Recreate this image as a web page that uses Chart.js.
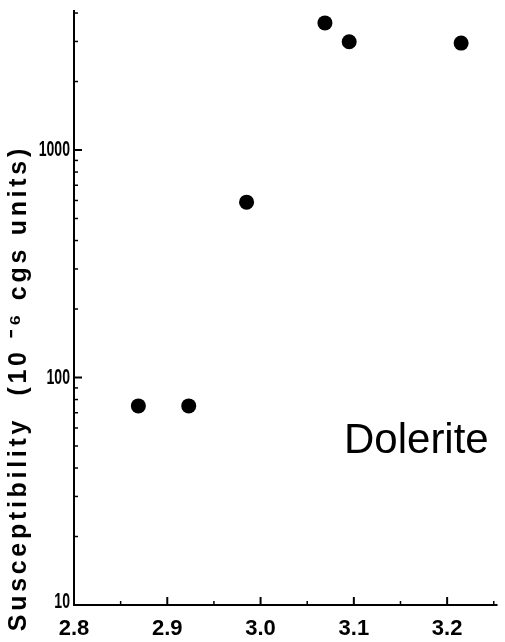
<!DOCTYPE html>
<html>
<head>
<meta charset="utf-8">
<script src="https://cdn.jsdelivr.net/npm/chart.js@4"></script>
<style>
  html, body { margin: 0; padding: 0; background: #ffffff; }
  #wrap { width: 505px; height: 642px; }
</style>
</head>
<body>
<div id="wrap"><canvas id="c" width="505" height="642"></canvas></div>
<script>
// ---- data ----
const density = [2.869, 2.923, 2.985, 3.069, 3.095, 3.215];
const susceptibility = [75, 75, 590, 3620, 2990, 2950];
const xTickLabels = [2.8, 2.9, 3.0, 3.1, 3.2];
const xMinorTicks = [2.85, 2.95, 3.05, 3.15, 3.25];
const yTickLabels = [10, 100, 1000];
const yTitle = 'Susceptibility  (10 \u207B\u2076 cgs units)';
const rockLabel = 'Dolerite';

const points = density.map((d, i) => ({ x: d, y: susceptibility[i] }));

const axesPlugin = {
  id: 'axesPlugin',
  afterDraw(chart) {
    const ctx = chart.ctx;
    const xs = chart.scales.x, ys = chart.scales.y;
    const a = chart.chartArea;
    ctx.save();
    ctx.strokeStyle = '#000';
    ctx.fillStyle = '#000';
    ctx.lineWidth = 2;
    // axis lines
    ctx.beginPath();
    ctx.moveTo(a.left, a.top);
    ctx.lineTo(a.left, a.bottom);
    ctx.lineTo(a.right, a.bottom);
    ctx.stroke();
    // y ticks (inside)
    ctx.lineWidth = 1.5;
    const yMinor = [];
    [10, 100, 1000].forEach(dec => {
      for (let m = 2; m <= 9; m++) {
        const v = dec * m;
        if (v <= ys.max) yMinor.push(v);
      }
    });
    yMinor.forEach(v => {
      const py = ys.getPixelForValue(v);
      ctx.beginPath(); ctx.moveTo(a.left, py); ctx.lineTo(a.left + 4, py); ctx.stroke();
    });
    ctx.lineWidth = 2;
    yTickLabels.forEach(v => {
      const py = ys.getPixelForValue(v);
      ctx.beginPath(); ctx.moveTo(a.left, py); ctx.lineTo(a.left + 8, py); ctx.stroke();
    });
    // x ticks (inside)
    ctx.lineWidth = 1.5;
    xMinorTicks.forEach(v => {
      const px = xs.getPixelForValue(v);
      ctx.beginPath(); ctx.moveTo(px, a.bottom); ctx.lineTo(px, a.bottom - 4); ctx.stroke();
    });
    ctx.lineWidth = 2;
    xTickLabels.forEach(v => {
      const px = xs.getPixelForValue(v);
      ctx.beginPath(); ctx.moveTo(px, a.bottom); ctx.lineTo(px, a.bottom - 8); ctx.stroke();
    });
    // y tick labels (tall, condensed)
    ctx.font = 'bold 22px "Liberation Sans", Arial, sans-serif';
    ctx.textAlign = 'right';
    ctx.textBaseline = 'middle';
    yTickLabels.forEach(v => {
      const py = ys.getPixelForValue(v);
      const yy = (v === 10) ? py - 3 : py;
      ctx.save();
      ctx.translate(a.left - 4, yy);
      ctx.scale(0.64, 1);
      ctx.fillText(String(v), 0, 0);
      ctx.restore();
    });
    // x tick labels
    ctx.font = 'bold 22px "Liberation Sans", Arial, sans-serif';
    ctx.textAlign = 'center';
    ctx.textBaseline = 'top';
    xTickLabels.forEach(v => {
      const px = xs.getPixelForValue(v);
      ctx.fillText(v.toFixed(1), px, a.bottom + 13);
    });
    // y title (rotated)
    ctx.save();
    ctx.translate(19, 390);
    ctx.rotate(-Math.PI / 2);
    ctx.font = 'bold 25px "Liberation Sans", Arial, sans-serif';
    ctx.textAlign = 'center';
    ctx.textBaseline = 'middle';
    const target = 486;
    const w0 = ctx.measureText(yTitle).width;
    const n = [...yTitle].length;
    const sp = Math.max(0, (target - w0) / n);
    ctx.letterSpacing = sp.toFixed(2) + 'px';
    ctx.fillText(yTitle, sp / 2, 0);
    ctx.restore();
    // Dolerite label
    ctx.font = '42px "Liberation Sans", Arial, sans-serif';
    ctx.textAlign = 'left';
    ctx.textBaseline = 'alphabetic';
    ctx.fillText(rockLabel, 344, 453);
    ctx.restore();
  }
};

new Chart(document.getElementById('c'), {
  type: 'scatter',
  data: {
    datasets: [{
      data: points,
      pointRadius: 7.5,
      pointHoverRadius: 7.5,
      pointBackgroundColor: '#000',
      pointBorderColor: '#000',
      pointBorderWidth: 0
    }]
  },
  options: {
    responsive: false,
    animation: false,
    devicePixelRatio: 1,
    layout: { padding: { left: 74, right: 2, top: 10, bottom: 37 } },
    plugins: { legend: { display: false }, tooltip: { enabled: false } },
    scales: {
      x: { type: 'linear', min: 2.8, max: 3.254, display: false },
      y: { type: 'logarithmic', min: 10, max: 4125, display: false }
    }
  },
  plugins: [axesPlugin]
});
</script>
</body>
</html>
